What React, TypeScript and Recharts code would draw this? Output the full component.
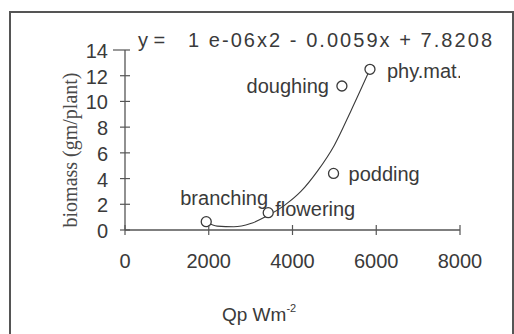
import { ComposedChart, Line, Scatter, XAxis, YAxis } from "recharts";

// growth stages (open circles)
const stageNames = ["branching", "flowering", "podding", "doughing", "phy.mat."];
const stageQp = [1940, 3420, 4980, 5180, 5850];
const stageBiomass = [0.65, 1.35, 4.4, 11.2, 12.5];

// polynomial trend line
const trendQp = [1950, 2200, 2600, 3000, 3400, 3800, 4200, 4600, 5000, 5400, 5850];
const trendBiomass = [0.6, 0.3, 0.25, 0.5, 1.1, 1.9, 3.0, 4.6, 6.6, 9.3, 12.5];

const xTicks = [0, 2000, 4000, 6000, 8000];
const yTicks = [0, 2, 4, 6, 8, 10, 12, 14];

const equation = "1 e-06x2 - 0.0059x + 7.8208";

const stages = stageNames.map((name, i) => ({ name, x: stageQp[i], y: stageBiomass[i] }));
const trend = trendQp.map((x, i) => ({ x, y: trendBiomass[i] }));

const INK = "#3a3a3a";
const LINE = "#555";
const SANS = "'Liberation Sans', Arial, sans-serif";

// where each stage name sits next to its circle
const labelPlace: Record<string, { dx: number; dy: number; anchor: "start" | "end" }> = {
  branching: { dx: -26, dy: -17, anchor: "start" },
  flowering: { dx: 7, dy: 3, anchor: "start" },
  podding: { dx: 15, dy: 8, anchor: "start" },
  doughing: { dx: -13, dy: 7, anchor: "end" },
  "phy.mat.": { dx: 17, dy: 9, anchor: "start" },
};

const StageDot = (props: any) => {
  const { cx, cy, payload } = props;
  const p = labelPlace[payload.name];
  return (
    <g>
      <circle cx={cx} cy={cy} r={5} fill="#fff" stroke={INK} strokeWidth={1.3} />
      <text x={cx + p.dx} y={cy + p.dy} textAnchor={p.anchor} fontSize={20} fontFamily={SANS} fill={INK}>
        {payload.name}
      </text>
    </g>
  );
};

const XTick = (props: any) => {
  const { x, y, payload } = props;
  return (
    <g>
      <line x1={x} x2={x} y1={y - 5} y2={y + 5} stroke={LINE} strokeWidth={1.2} />
      <text x={x} y={y + 38} textAnchor="middle" fontSize={20} fontFamily={SANS} fill={INK}>
        {payload.value}
      </text>
    </g>
  );
};

const YTick = (props: any) => {
  const { x, y, payload } = props;
  // the top tick runs out towards its label
  const left = payload.value === 14 ? 12 : 5;
  return (
    <g>
      <line x1={x - left} x2={x + 5} y1={y} y2={y} stroke={LINE} strokeWidth={1.2} />
      <text x={x - 17} y={y + 8} textAnchor="end" fontSize={20} fontFamily={SANS} fill={INK}>
        {payload.value}
      </text>
    </g>
  );
};

export default function App() {
  return (
    <div style={{ position: "absolute", left: 0, top: 0, width: 514, height: 334, overflow: "hidden", background: "#fff" }}>
      <div
        style={{
          position: "absolute",
          left: 9,
          top: 11,
          width: 501,
          height: 340,
          border: "2px solid #555",
        }}
      />
      <ComposedChart width={514} height={334} margin={{ top: 50, right: 54, bottom: 0, left: 0 }}>
        <XAxis
          type="number"
          dataKey="x"
          domain={[0, 8000]}
          ticks={xTicks}
          height={104}
          tickSize={0}
          tickMargin={0}
          tick={<XTick />}
          axisLine={{ stroke: LINE, strokeWidth: 1.3 }}
          allowDataOverflow
        />
        <YAxis
          type="number"
          dataKey="y"
          domain={[0, 14]}
          ticks={yTicks}
          width={125}
          tickSize={0}
          tickMargin={0}
          tick={<YTick />}
          axisLine={{ stroke: LINE, strokeWidth: 1.3 }}
          allowDataOverflow
        />
        <Line
          data={trend}
          dataKey="y"
          type="monotone"
          stroke={INK}
          strokeWidth={1.1}
          dot={false}
          activeDot={false}
          isAnimationActive={false}
        />
        <Scatter data={stages} dataKey="y" shape={<StageDot />} isAnimationActive={false} />
      </ComposedChart>
      <svg width={514} height={334} style={{ position: "absolute", left: 0, top: 0, pointerEvents: "none" }}>
        <text x={138} y={47} fontSize={20} fontFamily={SANS} fill={INK}>y =</text>
        <text x={188} y={47} fontSize={20} fontFamily={SANS} fill={INK} textLength={304} lengthAdjust="spacing">
          {equation}
        </text>
        <text
          x={77}
          y={150}
          transform="rotate(-90 77 150)"
          textAnchor="middle"
          fontSize={20}
          fontFamily="'Liberation Serif', 'Times New Roman', serif"
          fill="#4a4a4a"
        >
          biomass (gm/plant)
        </text>
        <text x={222} y={321} fontSize={19} fontFamily={SANS} fill={INK}>
          Qp Wm<tspan fontSize={11} dy={-9}>-2</tspan>
        </text>
      </svg>
    </div>
  );
}
